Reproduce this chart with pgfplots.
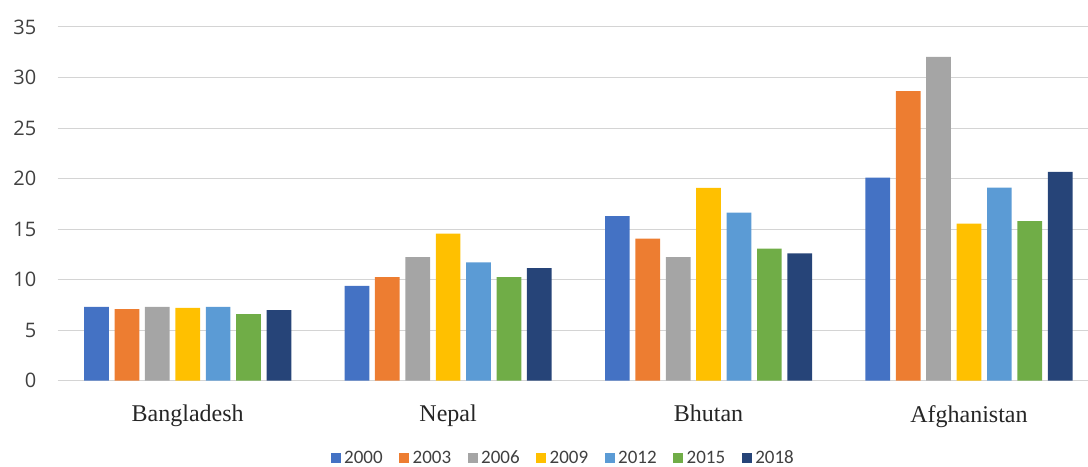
\documentclass[border=0pt]{standalone}
\usepackage{fontspec}
\usepackage{pgfplots}
\pgfplotsset{compat=1.18}
\newfontfamily\catfont{Liberation Serif}
\newfontfamily\tickfont{Open Sans}
\newfontfamily\legfont{Carlito}

\definecolor{c2000}{HTML}{4472C4}
\definecolor{c2003}{HTML}{ED7D31}
\definecolor{c2006}{HTML}{A5A5A5}
\definecolor{c2009}{HTML}{FFC000}
\definecolor{c2012}{HTML}{5B9BD5}
\definecolor{c2015}{HTML}{70AD47}
\definecolor{c2018}{HTML}{264478}
\definecolor{gridgray}{HTML}{D4D4D4}
\definecolor{txtgray}{HTML}{404040}

\begin{document}
\begin{tikzpicture}
\begin{axis}[
    at={(57.5bp,86.3bp)}, anchor=south west,
    scale only axis,
    width=1030.5bp, height=353.7bp,
    ybar=5.7bp,
    bar width=24.7bp,
    legend image code/.code={\fill[#1] (0bp,-5bp) rectangle (10bp,5bp);},
    enlargelimits=false,
    xmin=-0.5, xmax=3.457,
    ymin=0, ymax=35,
    ytick={0,5,...,35},
    xtick=data,
    xticklabels={Bangladesh, Nepal, Bhutan, Afghanistan},
    axis line style={draw=none},
    tick style={draw=none},
    ymajorgrids,
    major grid style={draw=gridgray, line width=1bp},
    /pgf/number format/assume math mode=true,
    yticklabel style={font=\tickfont\fontsize{20bp}{24bp}\selectfont, text=txtgray, anchor=east, inner sep=0pt, xshift=-21bp},
    xticklabel style={font=\catfont\fontsize{24bp}{28bp}\selectfont, text=black!85, anchor=north, inner sep=0pt, yshift=-20bp},
    legend columns=-1,
    legend style={draw=none, at={(0.4905,-0.2185)}, anchor=center,
        font=\legfont\fontsize{19bp}{22bp}\selectfont, text=txtgray,
        inner sep=0pt,
        nodes={inner sep=1.5bp},
        /tikz/every odd column/.append style={column sep=2bp},
        /tikz/every even column/.append style={column sep=15bp}},
]
\addplot[fill=c2000, draw=none] coordinates {(0,7.3) (1,9.38) (2,16.29) (3,20.1)};
\addplot[fill=c2003, draw=none] coordinates {(0,7.08) (1,10.24) (2,14.06) (3,28.65)};
\addplot[fill=c2006, draw=none] coordinates {(0,7.3) (1,12.24) (2,12.24) (3,32.05)};
\addplot[fill=c2009, draw=none] coordinates {(0,7.2) (1,14.55) (2,19.09) (3,15.54)};
\addplot[fill=c2012, draw=none] coordinates {(0,7.3) (1,11.72) (2,16.62) (3,19.1)};
\addplot[fill=c2015, draw=none] coordinates {(0,6.6) (1,10.24) (2,13.07) (3,15.8)};
\addplot[fill=c2018, draw=none] coordinates {(0,6.98) (1,11.13) (2,12.6) (3,20.67)};
\legend{2000, 2003, 2006, 2009, 2012, 2015, 2018}
\end{axis}
\pgfresetboundingbox
\path (0,0) rectangle (1088bp,467bp);
\end{tikzpicture}
\end{document}
